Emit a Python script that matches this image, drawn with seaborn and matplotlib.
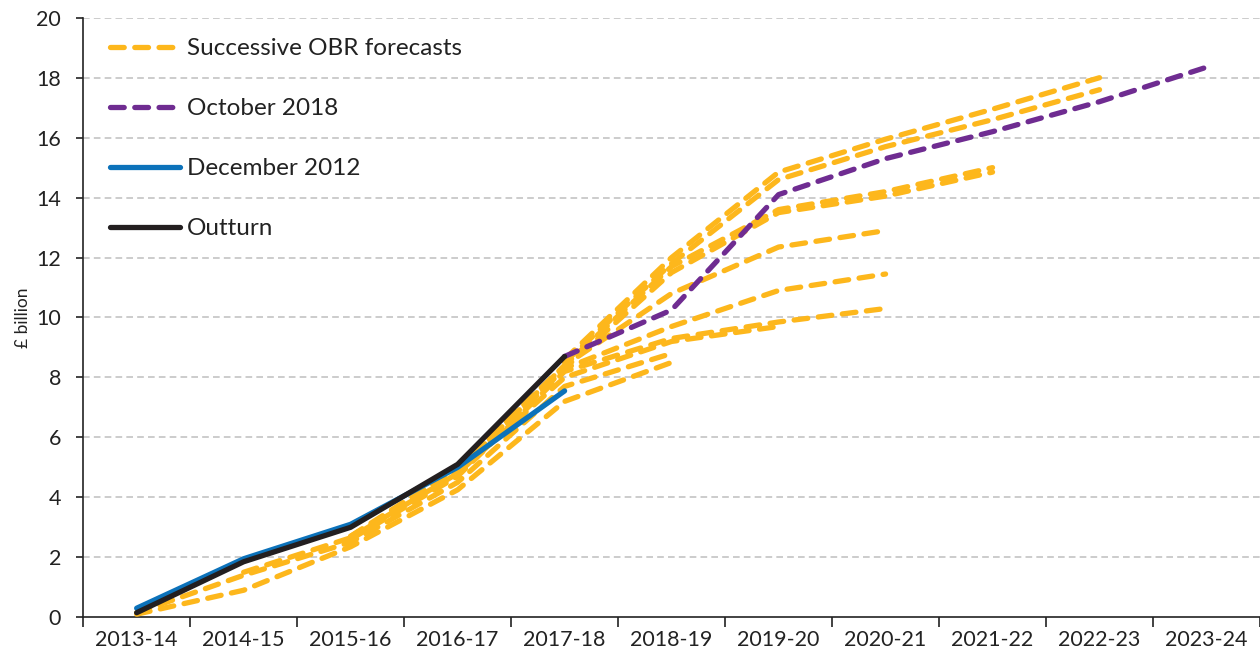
import matplotlib
matplotlib.use("Agg")
import matplotlib.pyplot as plt
from matplotlib.lines import Line2D
from matplotlib.ticker import FixedLocator, NullFormatter
import pandas as pd
import seaborn as sns

# Financial years on the x axis
years = ["2013-14", "2014-15", "2015-16", "2016-17", "2017-18", "2018-19",
         "2019-20", "2020-21", "2021-22", "2022-23", "2023-24"]

# Outturn and the two highlighted forecasts (£ billion)
outturn_start = "2013-14"
outturn = [0.15, 1.85, 3.0, 5.1, 8.7]

dec2012_start = "2013-14"
dec2012 = [0.3, 1.95, 3.1, 5.0, 7.55]

oct2018_start = "2017-18"
oct2018 = [8.7, 10.25, 14.1, 15.3, 16.2, 17.2, 18.35]

# Successive OBR forecasts: (first year, values)
obr_forecasts = [
    ("2013-14", [0.1, 0.9, 2.35, 4.25, 7.2, 8.5]),
    ("2013-14", [0.15, 1.4, 2.5, 4.5, 7.7, 8.8]),
    ("2014-15", [1.5, 2.65, 4.8, 8.0, 9.2, 9.7]),
    ("2015-16", [2.6, 4.7, 8.2, 9.3, 9.85, 10.3]),
    ("2015-16", [2.7, 4.9, 8.3, 9.7, 10.9, 11.45]),
    ("2015-16", [2.7, 5.0, 8.4, 10.8, 12.35, 12.9]),
    ("2016-17", [4.9, 8.4, 11.7, 13.6, 14.2, 15.0]),
    ("2016-17", [4.8, 8.3, 11.5, 13.5, 14.05, 14.85]),
    ("2017-18", [8.6, 12.0, 14.85, 15.95, 16.95, 18.0]),
    ("2017-18", [8.5, 11.8, 14.6, 15.7, 16.6, 17.6]),
]

YELLOW = "#FDB71C"
PURPLE = "#6F2C91"
BLUE = "#0C72BA"
BLACK = "#231F20"


def series_frame(start, values):
    i0 = years.index(start)
    return pd.DataFrame({"x": range(i0, i0 + len(values)), "value": values})


sns.set_theme(style="white")
plt.rcParams["font.family"] = ["Lato", "DejaVu Sans"]

fig = plt.figure(figsize=(12.6, 6.58), dpi=100)
ax = fig.add_axes([0.066, 0.062, 0.934, 0.911])

dash = (0, (2.6, 2.0))
lw = 3.8

for start, vals in obr_forecasts:
    sns.lineplot(data=series_frame(start, vals), x="x", y="value", ax=ax,
                 color=YELLOW, lw=lw, linestyle=dash, dash_capstyle="round",
                 zorder=3)

sns.lineplot(data=series_frame(oct2018_start, oct2018), x="x", y="value", ax=ax,
             color=PURPLE, lw=lw, linestyle=dash, dash_capstyle="round", zorder=4)
sns.lineplot(data=series_frame(dec2012_start, dec2012), x="x", y="value", ax=ax,
             color=BLUE, lw=lw, solid_capstyle="round", zorder=5)
sns.lineplot(data=series_frame(outturn_start, outturn), x="x", y="value", ax=ax,
             color=BLACK, lw=lw, solid_capstyle="round", zorder=6)

ax.set_xlim(-0.5, len(years) - 0.5)
ax.set_ylim(0, 20)
ax.set_yticks(range(0, 21, 2))

# labels at year centres, tick marks at year boundaries
ax.set_xticks(range(len(years)))
ax.set_xticklabels(years)
ax.xaxis.set_minor_locator(FixedLocator([i - 0.5 for i in range(len(years) + 1)]))
ax.xaxis.set_minor_formatter(NullFormatter())
ax.tick_params(axis="x", which="major", length=0, pad=9, labelsize=15.5, colors="#222222")
ax.tick_params(axis="x", which="minor", length=7, width=1.2, color="#222222",
               direction="out", bottom=True)
ax.tick_params(axis="y", length=5, width=1.2, color="#222222", direction="out",
               left=True, pad=11, labelsize=15.5, labelcolor="#222222")

ax.set_xlabel("")
ax.set_ylabel("£ billion", fontsize=12.5, color="#222222", labelpad=4)

for s in ["top", "right"]:
    ax.spines[s].set_visible(False)
for s in ["left", "bottom"]:
    ax.spines[s].set_color("#222222")
    ax.spines[s].set_linewidth(1.2)

for v in range(2, 21, 2):
    ax.axhline(v, color="#C4C4C4", lw=1.2, linestyle=(0, (4, 2.5)), zorder=1)

handles = [
    Line2D([], [], color=YELLOW, lw=lw, linestyle=dash, dash_capstyle="round"),
    Line2D([], [], color=PURPLE, lw=lw, linestyle=dash, dash_capstyle="round"),
    Line2D([], [], color=BLUE, lw=lw, solid_capstyle="round"),
    Line2D([], [], color=BLACK, lw=lw, solid_capstyle="round"),
]
labels = ["Successive OBR forecasts", "October 2018", "December 2012", "Outturn"]
leg = ax.legend(handles, labels, loc="upper left", bbox_to_anchor=(0.01, 0.99),
                frameon=False, fontsize=17.5, handlelength=2.9, handletextpad=0.3,
                labelspacing=1.6, borderaxespad=0.2)
for t in leg.get_texts():
    t.set_color("#222222")

fig.savefig("out.png", dpi=100)
